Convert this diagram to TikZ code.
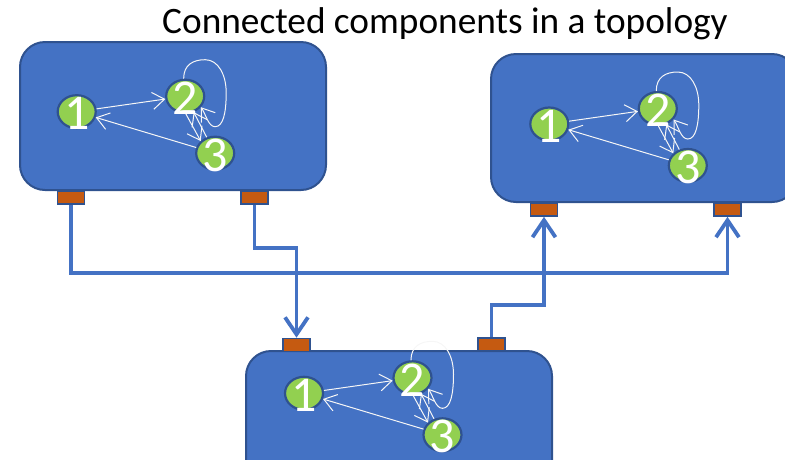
\documentclass[tikz,border=0pt]{standalone}
\usepackage{fontspec}
\setmainfont{Carlito}
\usetikzlibrary{arrows.meta,shapes.geometric}
\definecolor{boxblue}{HTML}{4472C4}
\definecolor{rimblue}{HTML}{2F528F}
\definecolor{portorange}{HTML}{C55A11}
\definecolor{vgreen}{HTML}{92D050}
\tikzset{
  compbox/.style={draw=rimblue, fill=boxblue, line width=2pt, rounded corners=25pt,
    minimum width=306pt, minimum height=148pt, inner sep=0pt},
  port/.style={draw=rimblue, fill=portorange, line width=1.6pt,
    minimum width=27pt, minimum height=13pt, inner sep=0pt},
  vert/.style={ellipse, draw=rimblue, fill=vgreen, line width=2.2pt,
    minimum width=38pt, minimum height=33pt, inner sep=0pt},
  digit/.style={text=white, font=\fontsize{50}{50}\selectfont, inner sep=0pt, yshift=-2pt},
  arc/.style={draw=white!93!gray, line width=1pt, -{Straight Barb[length=12pt,width=17pt]}},
  wire/.style={draw=boxblue, line width=3.8pt, -{Straight Barb[length=17pt,width=23pt]}},
  % three-vertex graph with a self loop on vertex 2; origin at vertex 1
  graph/.pic={
    \node[vert] (-n1) at (0,0) {};
    \node[vert] (-n2) at (108.5,-15.5) {};
    \node[vert] (-n3) at (138.5,41.5) {};
    \draw[arc] (-n1) -- (-n2);
    \draw[arc] (-n3) -- (-n1);
    \draw[arc] (-n2.-88) -- (-n3.140);
    \draw[arc] (-n3.118) -- (-n2.-62);
    \draw[arc] (-n2.95) .. controls +(0,-14) and +(-12,0) .. (128.5,-52)
      .. controls +(13,0) and +(0,-18) .. (149.5,-19)
      .. controls +(0,20) and +(8,0) .. (138.5,15)
      .. controls +(-7,0) and +(5,7) .. (-n2.-35);
    \node[digit] (-d1) at (-n1) {1};
    \node[digit] (-d2) at (-n2) {2};
    \node[digit] (-d3) at (-n3) {3};
  }
}
\begin{document}
\begin{tikzpicture}[x=1pt, y=-1pt]
  \useasboundingbox (0,0) rectangle (785,459);
  \node[font=\fontsize{37.3}{37.3}\selectfont, anchor=base] (title) at (445,33)
    {Connected components in a topology};

  % components
  \node[compbox] (tlbox) at (173,116) {};
  \node[compbox] (trbox) at (644,128) {};
  \node[compbox] (bbox) at (399,425) {};

  % ports
  \node[port] (tlp1) at (71,197.5) {};
  \node[port] (tlp2) at (254.5,197.5) {};
  \node[port] (trp1) at (544,209.5) {};
  \node[port] (trp2) at (727.5,209.5) {};
  \node[port] (bp1) at (296.5,345) {};
  \node[port] (bp2) at (491.5,344.5) {};

  % graphs inside the components
  \pic (tl) at (76.7,111.7) {graph};
  \pic (tr) at (549.3,124) {graph};
  \pic (bt) at (304,393.3) {graph};

  % links between ports
  \draw[wire] (tlp1.south) -- ++(0,68) -| (trp2.south);
  \draw[wire] (tlp2.south) -- ++(0,43.5) -| (bp1.north);
  \draw[wire] (bp2.north) -- ++(0,-32) -| (trp1.south);
\end{tikzpicture}
\end{document}
